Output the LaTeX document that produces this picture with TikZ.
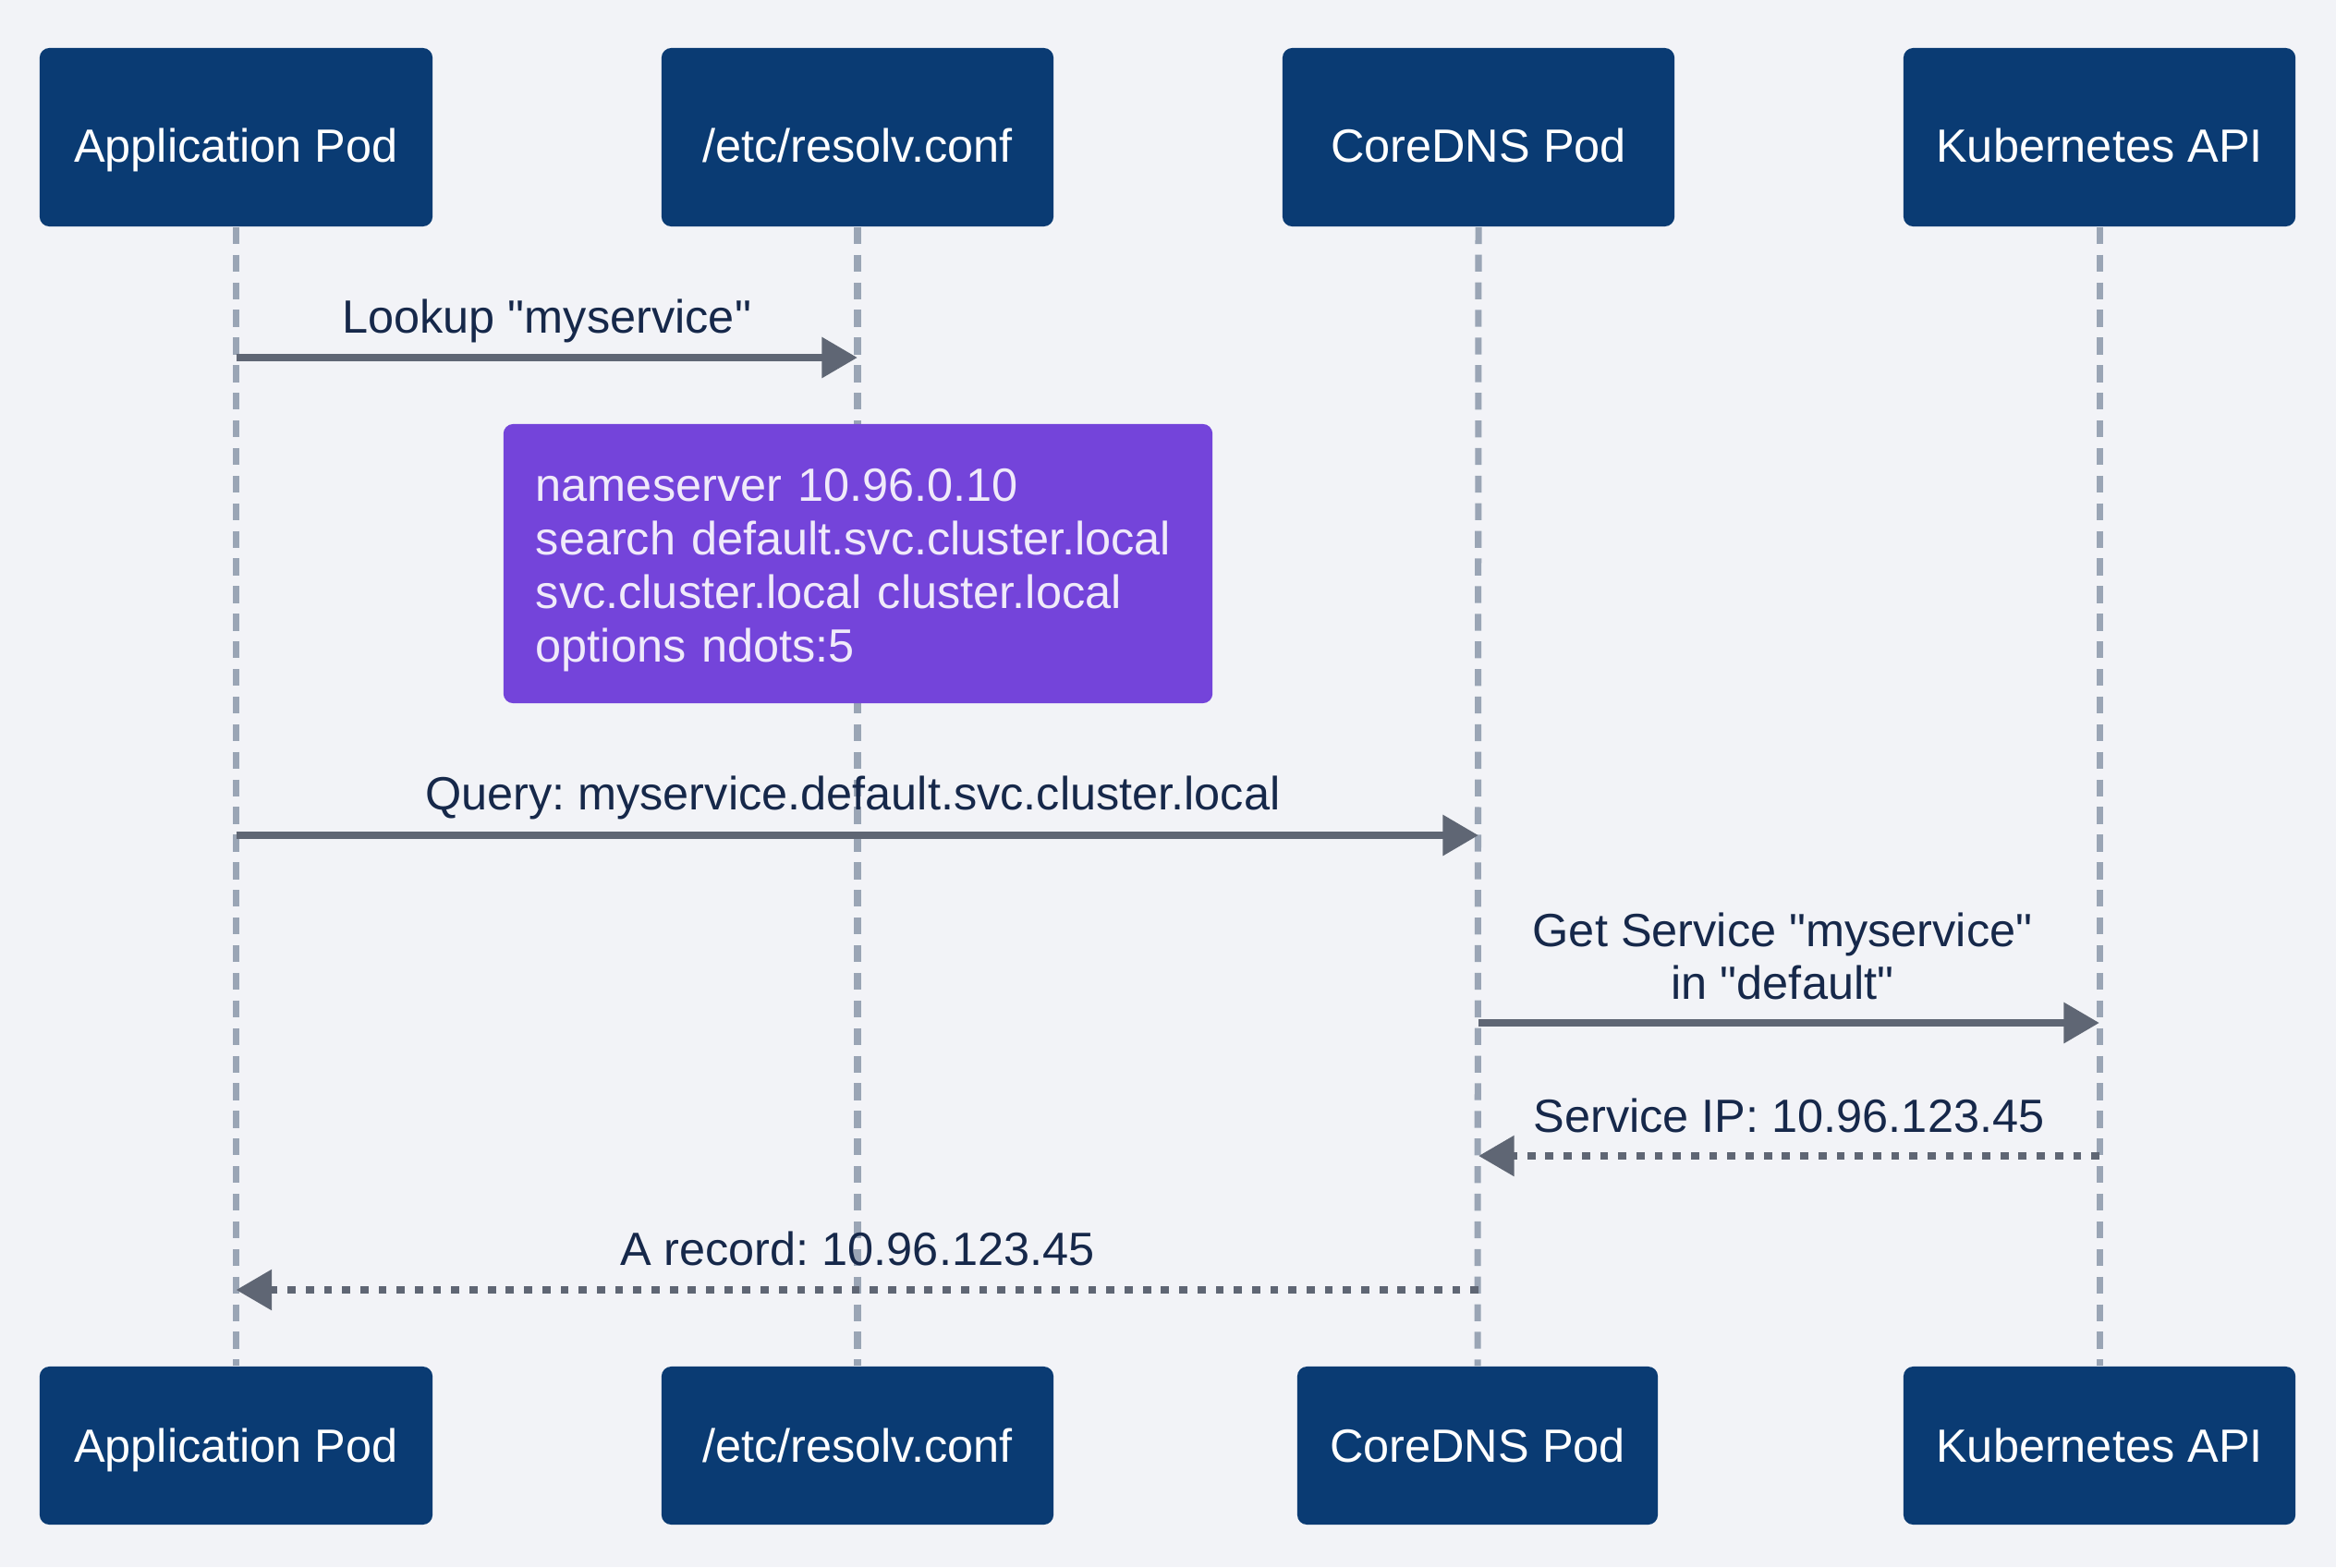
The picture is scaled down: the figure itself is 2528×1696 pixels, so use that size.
\documentclass[tikz,border=0pt]{standalone}
\usepackage{fontspec}
\newfontfamily\lsans{Liberation Sans}
\usetikzlibrary{arrows.meta}
\definecolor{bg}{HTML}{F2F3F7}
\definecolor{navy}{HTML}{0A3B73}
\definecolor{lifeg}{HTML}{9AA5B5}
\definecolor{arrowg}{HTML}{5F6674}
\definecolor{txt}{HTML}{16284A}
\definecolor{notep}{HTML}{7444DA}
\definecolor{notet}{HTML}{F0EAFA}
\tikzset{
  actor/.style={draw=none, fill=navy, rounded corners=3pt, inner sep=0pt},
  actortext/.style={text=white, font=\lsans\fontsize{14.35}{17}\selectfont, inner sep=0pt, text height=10.3pt, text depth=0pt},
  lifeline/.style={draw=lifeg, line width=2pt, dash pattern=on 5.2pt off 3.3pt},
  msg/.style={draw=arrowg, line width=2.5pt, -{Triangle[length=11pt,width=12pt]}},
  reply/.style={draw=arrowg, line width=2.4pt, dash pattern=on 2.5pt off 3.1pt, -{Triangle[length=11pt,width=12pt]}},
  lbl/.style={text=txt, font=\lsans\fontsize{14.35}{16.4}\selectfont, inner sep=0pt, align=center},
  notebox/.style={fill=notep, rounded corners=3pt, inner sep=0pt},
  notetext/.style={text=notet, font=\lsans\fontsize{14.35}{16.45}\selectfont, align=left, inner sep=0pt, text width=6.97cm}
}
\begin{document}
\frenchspacing
\begin{tikzpicture}[x=0.01cm, y=-0.01cm]
\fill[bg] (0,0) rectangle (2528,1696);
\useasboundingbox (0,0) rectangle (2528,1696);

% top actors
\node[actor, minimum width=4.25cm, minimum height=1.93cm] (appT) at (255.5,148.5) {};
\node[actor, minimum width=4.24cm, minimum height=1.93cm] (resT) at (928,148.5) {};
\node[actor, minimum width=4.24cm, minimum height=1.93cm] (dnsT) at (1600,148.5) {};
\node[actor, minimum width=4.24cm, minimum height=1.93cm] (apiT) at (2272,148.5) {};
\node[actortext] (appTt) at ([yshift=-0.09cm]appT.center) {Application Pod};
\node[actortext] (resTt) at ([yshift=-0.09cm]resT.center) {/etc/resolv.conf};
\node[actortext] (dnsTt) at ([yshift=-0.09cm]dnsT.center) {CoreDNS Pod};
\node[actortext] (apiTt) at ([yshift=-0.09cm]apiT.center) {Kubernetes API};
% bottom actors
\node[actor, minimum width=4.25cm, minimum height=1.71cm] (appB) at (255.5,1564.5) {};
\node[actor, minimum width=4.24cm, minimum height=1.71cm] (resB) at (928,1564.5) {};
\node[actor, minimum width=3.90cm, minimum height=1.71cm] (dnsB) at (1599,1564.5) {};
\node[actor, minimum width=4.24cm, minimum height=1.71cm] (apiB) at (2272,1564.5) {};
\node[actortext] (appBt) at (appB.center) {Application Pod};
\node[actortext] (resBt) at (resB.center) {/etc/resolv.conf};
\node[actortext] (dnsBt) at (dnsB.center) {CoreDNS Pod};
\node[actortext] (apiBt) at (apiB.center) {Kubernetes API};

% lifelines
\draw[lifeline] (appT.south) -- (appB.north);
\draw[lifeline] (resT.south) -- (resB.north);
\draw[lifeline] (dnsT.south) -- (dnsB.north);
\draw[lifeline] (apiT.south) -- (apiB.north);

% note
\node[notebox, minimum width=7.67cm, minimum height=3.02cm] (note) at (928.5,610) {};
\node[notetext] (notet) at ([xshift=0.0cm, yshift=-0.07cm]note.center)
 {nameserver 10.96.0.10\\search default.svc.cluster.local\\svc.cluster.local cluster.local\\options ndots:5};

% message anchor points
\coordinate (m1a) at (appT.south |- 0,387);
\coordinate (m1b) at (resT.south |- 0,387);
\coordinate (m2a) at (appT.south |- 0,904);
\coordinate (m2b) at (dnsT.south |- 0,904);
\coordinate (m3a) at (dnsT.south |- 0,1107);
\coordinate (m3b) at (apiT.south |- 0,1107);
\coordinate (m4a) at (apiT.south |- 0,1251);
\coordinate (m4b) at (dnsT.south |- 0,1251);
\coordinate (m5a) at (dnsT.south |- 0,1396);
\coordinate (m5b) at (appT.south |- 0,1396);

\draw[msg] (m1a) -- (m1b) node[lbl, midway, yshift=0.40cm] (l1) {Lookup "myservice"};
\draw[msg] (m2a) -- (m2b) node[lbl, midway, yshift=0.41cm, xshift=-0.05cm] (l2) {Query: myservice.default.svc.cluster.local};
\draw[msg] (m3a) -- (m3b) node[lbl, midway, yshift=0.72cm, xshift=-0.07cm] (l3) {Get Service "myservice"\\in "default"};
\draw[reply] (m4a) -- (m4b) node[lbl, midway, yshift=0.44cm] (l4) {Service IP: 10.96.123.45};
\draw[reply] (m5a) -- (m5b) node[lbl, midway, yshift=0.45cm] (l5) {A record: 10.96.123.45};
\end{tikzpicture}
\end{document}
